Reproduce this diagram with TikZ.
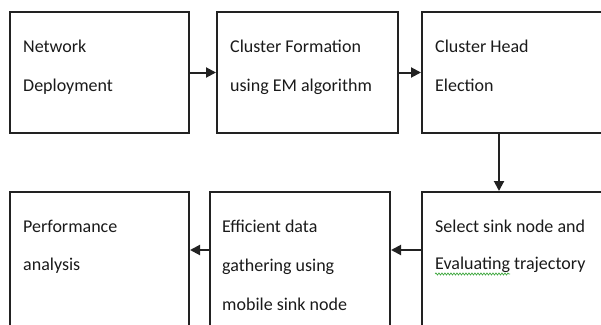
\documentclass[tikz,border=0pt]{standalone}
\usepackage{fontspec}
\setmainfont{Carlito}
\usetikzlibrary{arrows.meta,decorations.pathmorphing}
\definecolor{ink}{HTML}{1A1A1A}
\definecolor{edge}{HTML}{222222}
\definecolor{squiggle}{HTML}{3FA83F}
\tikzset{
  stagebox/.style={draw=edge, line width=2pt, rectangle, inner sep=0pt},
  txt/.style={anchor=base west, inner sep=0pt, text=ink,
              font=\fontsize{18}{22}\selectfont},
  flow/.style={draw=edge, line width=2pt,
               -{Triangle[length=10pt,width=10pt]}},
}
\begin{document}
\begin{tikzpicture}[x=1pt,y=-1pt]
\useasboundingbox (0,0) rectangle (601,324);
\clip (0,0) rectangle (601,324);

% process stages (right column and bottom row run past the page edge)
\node[stagebox, minimum width=179pt, minimum height=121pt] (b1) at (99.5,72.5) {};
\node[stagebox, minimum width=181pt, minimum height=121pt] (b2) at (307.5,72.5) {};
\node[stagebox, minimum width=198pt, minimum height=121pt] (b3) at (521,72.5) {};
\node[stagebox, minimum width=179pt, minimum height=143pt] (b4) at (99.5,263.5) {};
\node[stagebox, minimum width=180pt, minimum height=143pt] (b5) at (300,263.5) {};
\node[stagebox, minimum width=198pt, minimum height=143pt] (b6) at (521,263.5) {};

% labels
\node[txt] (t1a) at (23,52) {Network};
\node[txt] (t1b) at (23,91) {Deployment};
\node[txt] (t2a) at (230,52) {Cluster Formation};
\node[txt] (t2b) at (230,91) {using EM algorithm};
\node[txt] (t3a) at (435,52) {Cluster Head};
\node[txt] (t3b) at (435,91) {Election};
\node[txt] (t4a) at (23,232) {Performance};
\node[txt] (t4b) at (23,270) {analysis};
\node[txt] (t5a) at (222,232) {Efficient data};
\node[txt] (t5b) at (222,271) {gathering using};
\node[txt] (t5c) at (222,310) {mobile sink node};
\node[txt] (t6a) at (435,232) {Select sink node and};
\node[txt] (t6b) at (435,269) {Evaluating trajectory};

% spell-check underline
\coordinate (sqA) at (435,274);
\coordinate (sqB) at (510,274);
\draw[squiggle, line width=0.7pt,
      decorate, decoration={snake, amplitude=1pt, segment length=3pt}]
      (sqA) -- (sqB);

% connectors
\coordinate (lowrow) at (0,250);
\draw[flow] (b1.east) -- (b2.west);
\draw[flow] (b2.east) -- (b3.west);
\draw[flow] ([xshift=78pt]b3.south west) -- ([xshift=78pt]b6.north west);
\draw[flow] (b6.west |- lowrow) -- (b5.east |- lowrow);
\draw[flow] (b5.west |- lowrow) -- (b4.east |- lowrow);
\end{tikzpicture}
\end{document}
